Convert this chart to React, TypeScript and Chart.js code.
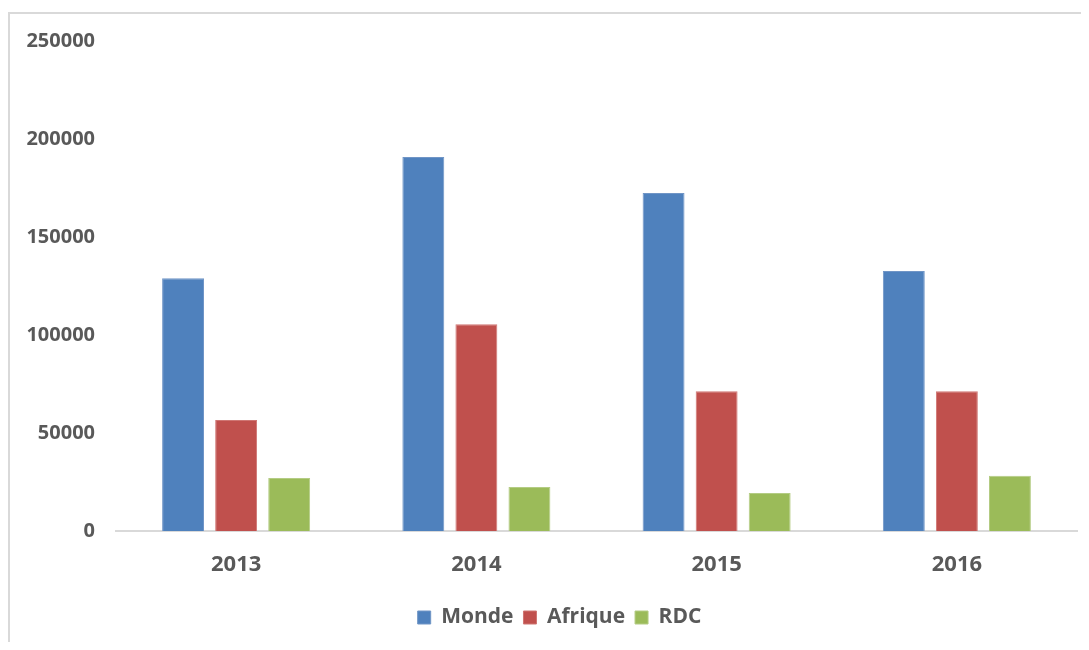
import React, { useEffect, useRef } from "react";
import { Chart, registerables } from "chart.js";

Chart.register(...registerables);

const categories = ["2013", "2014", "2015", "2016"];
const monde = [129000, 190800, 172400, 132600];
const afrique = [56600, 105500, 71300, 71300];
const rdc = [27000, 22400, 19400, 28200];
const seriesNames = ["Monde", "Afrique", "RDC"];

const FONT = "'Open Sans', 'Liberation Sans', sans-serif";
const TEXT = "#595959";

const legendShift = {
  id: "legendShift",
  afterUpdate(chart: any) {
    const lg = chart.legend;
    if (!lg) return;
    lg.left += 17;
    lg.right += 17;
    if (typeof lg.adjustHitBoxes === "function") lg.adjustHitBoxes();
  },
};

export default function App() {
  const ref = useRef<HTMLCanvasElement | null>(null);

  useEffect(() => {
    if (!ref.current) return;
    const chart = new Chart(ref.current, {
      type: "bar",
      data: {
        labels: categories,
        datasets: [
          { label: seriesNames[0], data: monde, backgroundColor: "#4f81bd", borderColor: "#7095c6", borderWidth: 1 },
          { label: seriesNames[1], data: afrique, backgroundColor: "#c0504d", borderColor: "#cf7673", borderWidth: 1 },
          { label: seriesNames[2], data: rdc, backgroundColor: "#9bbb59", borderColor: "#b4cc84", borderWidth: 1 },
        ],
      },
      plugins: [legendShift],
      options: {
        animation: false,
        responsive: false,
        maintainAspectRatio: false,
        datasets: {
          bar: { categoryPercentage: 0.6625, barPercentage: 0.79 },
        },
        layout: { padding: { top: 32, right: 12, bottom: 20, left: 0 } },
        plugins: {
          tooltip: { enabled: false },
          legend: {
            position: "bottom",
            labels: {
              boxWidth: 13,
              boxHeight: 13,
              padding: 10,
              color: TEXT,
              font: { family: FONT, size: 21, weight: "bold" },
            },
          },
        },
        scales: {
          x: {
            grid: { display: false, drawTicks: false, tickLength: 0 },
            border: { display: true, color: "#d9d9d9", width: 2 },
            ticks: {
              color: TEXT,
              padding: 21,
              font: { family: FONT, size: 22, weight: "bold" },
            },
            afterFit: (scale: any) => {
              scale.height = 66;
            },
          },
          y: {
            min: 0,
            max: 250000,
            grid: { display: false, drawTicks: false, tickLength: 0 },
            border: { display: false },
            ticks: {
              stepSize: 50000,
              color: TEXT,
              padding: 21,
              font: { family: FONT, size: 20, weight: "bold" },
              callback: (v: any) => String(v),
            },
            afterFit: (scale: any) => {
              scale.width = 108;
            },
          },
        },
      },
    });
    return () => chart.destroy();
  }, []);

  return (
    <div style={{ position: "relative", width: 1081, height: 650, marginBottom: -16, overflow: "hidden" }}>
      <div
        style={{
          position: "absolute",
          left: 0,
          top: 4,
          width: 2000,
          height: 2000,
          borderLeft: "2px solid #d9d9d9",
          borderTop: "2px solid #d9d9d9",
        }}
      />
      <canvas ref={ref} width={1081} height={650} style={{ position: "absolute", left: 0, top: 0, display: "block" }} />
    </div>
  );
}
